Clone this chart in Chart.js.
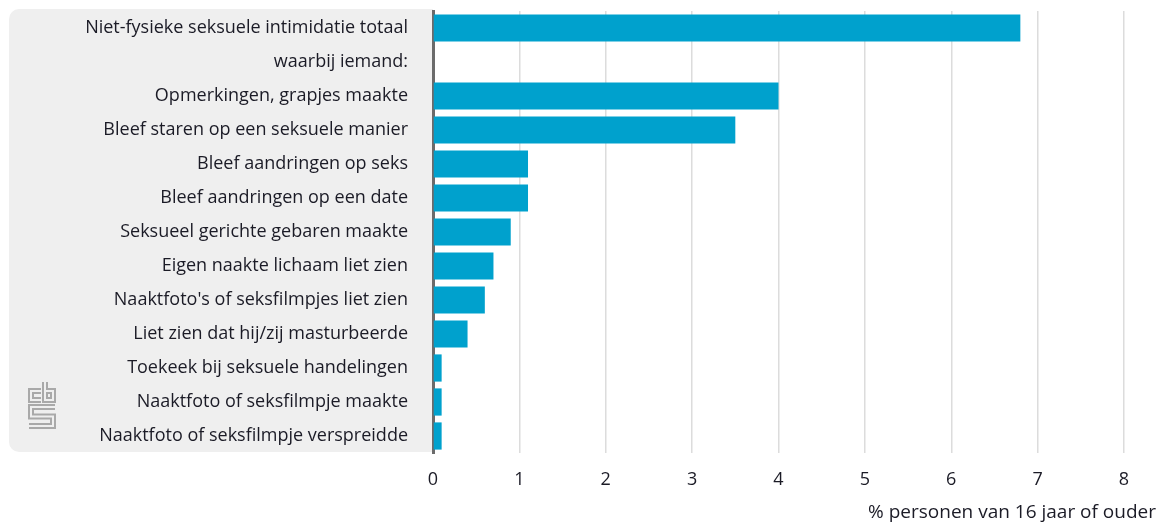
<!DOCTYPE html>
<html>
<head>
<meta charset="utf-8">
<script src="https://cdn.jsdelivr.net/npm/chart.js@4"></script>
<style>
  html, body { margin: 0; padding: 0; background: #fff; }
  #wrap { width: 1162px; height: 523px; }
</style>
</head>
<body>
<div id="wrap"><canvas id="chart" width="1162" height="523"></canvas></div>
<script>
const categories = [
  "Niet-fysieke seksuele intimidatie totaal",
  "waarbij iemand:",
  "Opmerkingen, grapjes maakte",
  "Bleef staren op een seksuele manier",
  "Bleef aandringen op seks",
  "Bleef aandringen op een date",
  "Seksueel gerichte gebaren maakte",
  "Eigen naakte lichaam liet zien",
  "Naaktfoto's of seksfilmpjes liet zien",
  "Liet zien dat hij/zij masturbeerde",
  "Toekeek bij seksuele handelingen",
  "Naaktfoto of seksfilmpje maakte",
  "Naaktfoto of seksfilmpje verspreidde"
];
const percentages = [6.8, null, 4.0, 3.5, 1.1, 1.1, 0.9, 0.7, 0.6, 0.4, 0.1, 0.1, 0.1];
const xTicks = [0, 1, 2, 3, 4, 5, 6, 7, 8];
const axisTitle = "% personen van 16 jaar of ouder";

const fontFamily = "'Open Sans', sans-serif";
const fontSize = 18;
const textColor = "#1b1b26";
const panelColor = "#efefef";

function outlinedPath(ctx, pts) {
  // thick grey stroke with a thin panel-coloured stroke inside -> outlined letter
  [[6, "#a9a9a9"], [2, panelColor]].forEach(([w, c]) => {
    ctx.lineWidth = w;
    ctx.strokeStyle = c;
    ctx.beginPath();
    pts.forEach(([x, y], i) => i ? ctx.lineTo(x, y) : ctx.moveTo(x, y));
    ctx.stroke();
  });
}

// grey panel behind the labels, cbs logo and the x-axis title
const decorations = {
  id: "decorations",
  beforeDraw(chart) {
    const { ctx, chartArea } = chart;
    ctx.save();
    ctx.fillStyle = panelColor;
    ctx.beginPath();
    ctx.roundRect(9, chartArea.top - 2, chartArea.left - 9, chartArea.bottom - chartArea.top + 1, [10, 0, 0, 10]);
    ctx.fill();

    ctx.lineJoin = "miter";
    ctx.lineCap = "butt";
    outlinedPath(ctx, [[41, 391], [31, 391], [31, 400], [41, 400]]);
    outlinedPath(ctx, [[45, 382], [45, 400], [53, 400], [53, 391], [45, 391]]);
    outlinedPath(ctx, [[55, 407], [31, 407], [31, 416.5], [53, 416.5], [53, 426], [29, 426]]);
    ctx.restore();
  },
  afterDraw(chart) {
    const { ctx } = chart;
    ctx.save();
    ctx.font = "19px " + fontFamily;
    ctx.fillStyle = textColor;
    ctx.textAlign = "right";
    ctx.textBaseline = "middle";
    ctx.fillText(axisTitle, 1156, 513);
    ctx.restore();
  }
};

new Chart(document.getElementById("chart"), {
  type: "bar",
  data: {
    labels: categories,
    datasets: [{
      data: percentages,
      backgroundColor: "#00a1cd",
      borderWidth: 0,
      barPercentage: 0.8,
      categoryPercentage: 1.0
    }]
  },
  options: {
    indexAxis: "y",
    responsive: false,
    animation: false,
    layout: { padding: { top: 11, right: 38, bottom: 0, left: 0 } },
    plugins: { legend: { display: false }, tooltip: { enabled: false } },
    scales: {
      x: {
        min: 0,
        max: 8,
        afterBuildTicks: (scale) => { scale.ticks = xTicks.map(v => ({ value: v })); },
        afterFit: (scale) => { scale.height = 70; scale.paddingLeft = 0; scale.paddingRight = 0; },
        grid: { color: "#dcdcdc", lineWidth: 1.5, drawTicks: false },
        border: { display: false },
        ticks: { color: textColor, font: { family: fontFamily, size: fontSize }, padding: 16 }
      },
      y: {
        afterFit: (scale) => { scale.width = 433; scale.paddingTop = 0; scale.paddingBottom = 0; },
        grid: { display: false },
        border: { display: true, color: "#6b6b6b", width: 3 },
        ticks: { color: textColor, font: { family: fontFamily, size: fontSize }, padding: 17 }
      }
    }
  },
  plugins: [decorations]
});
</script>
</body>
</html>
